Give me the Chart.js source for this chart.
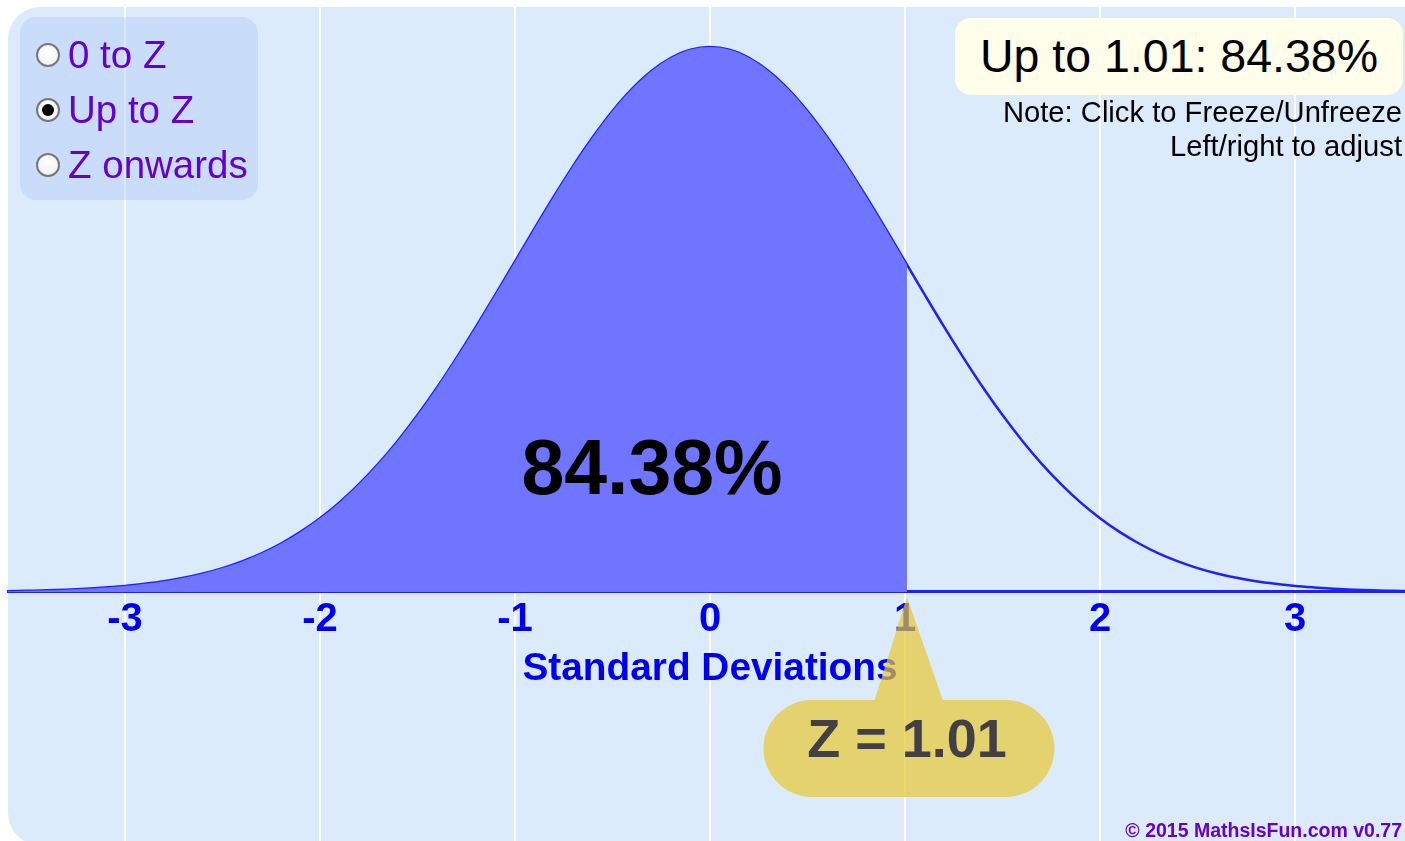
<!DOCTYPE html>
<html>
<head>
<meta charset="utf-8">
<script src="https://cdn.jsdelivr.net/npm/chart.js@4.4.0/dist/chart.umd.min.js"></script>
<style>
html,body{margin:0;padding:0;width:1405px;height:841px;overflow:hidden;background:#fff;font-family:"Liberation Sans",Arial,sans-serif;}
#bg{position:absolute;left:8px;top:7px;width:1430px;height:838px;border-radius:32px;background:#dcebfc;}
#c{position:absolute;left:0;top:0;}
#radio{position:absolute;left:20px;top:17px;width:238px;height:183px;border-radius:16px;background:rgba(185,210,250,0.55);}
.row{position:absolute;left:0;height:55px;display:flex;align-items:center;font-size:38.5px;color:#6600cc;white-space:nowrap;}
.dot{width:20px;height:20px;border-radius:50%;border:2px solid #777;background:radial-gradient(circle at 50% 35%,#fff,#eee);margin-left:16px;margin-right:8px;box-sizing:content-box;position:relative;}
.dot.on::after{content:"";position:absolute;left:4px;top:4px;width:12px;height:12px;border-radius:50%;background:#000;}
#result{position:absolute;left:955px;top:18px;width:448px;height:77px;border-radius:16px;background:#fefeea;font-size:46.5px;line-height:77px;text-align:center;color:#000;}
#note{position:absolute;right:3px;top:95px;font-size:29.2px;line-height:34px;text-align:right;color:#000;}
#area{position:absolute;left:452px;width:400px;top:421px;line-height:92px;font-size:77px;font-weight:bold;text-align:center;color:#000;}
#foot{position:absolute;right:3px;top:819px;line-height:22px;font-size:19.5px;font-weight:bold;color:#6600cc;}
</style>
</head>
<body>
<div id="bg"></div>
<canvas id="c" width="1412" height="841"></canvas>
<div id="radio">
  <div class="row" style="top:10px"><span class="dot"></span>0 to Z</div>
  <div class="row" style="top:65px"><span class="dot on"></span>Up to Z</div>
  <div class="row" style="top:120px"><span class="dot"></span>Z onwards</div>
</div>
<div id="result"></div>
<div id="note">Note: Click to Freeze/Unfreeze<br>Left/right to adjust</div>
<div id="area"></div>
<div id="foot">© 2015 MathsIsFun.com v0.77</div>
<script>
// ---- data ----
const zPoints = [-3.6,-3.5,-3.4,-3.3,-3.2,-3.1,-3.0,-2.9,-2.8,-2.7,-2.6,-2.5,-2.4,-2.3,-2.2,-2.1,-2.0,-1.9,-1.8,-1.7,-1.6,-1.5,-1.4,-1.3,-1.2,-1.1,-1.0,-0.9,-0.8,-0.7,-0.6,-0.5,-0.4,-0.3,-0.2,-0.1,0,0.1,0.2,0.3,0.4,0.5,0.6,0.7,0.8,0.9,1.0,1.1,1.2,1.3,1.4,1.5,1.6,1.7,1.8,1.9,2.0,2.1,2.2,2.3,2.4,2.5,2.6,2.7,2.8,2.9,3.0,3.1,3.2,3.3,3.4,3.5,3.6];
const density = [0.0006,0.0009,0.0012,0.0017,0.0024,0.0033,0.0044,0.0060,0.0079,0.0104,0.0136,0.0175,0.0224,0.0283,0.0355,0.0440,0.0540,0.0656,0.0790,0.0940,0.1109,0.1295,0.1497,0.1714,0.1942,0.2179,0.2420,0.2661,0.2897,0.3123,0.3332,0.3521,0.3683,0.3814,0.3910,0.3970,0.3989,0.3970,0.3910,0.3814,0.3683,0.3521,0.3332,0.3123,0.2897,0.2661,0.2420,0.2179,0.1942,0.1714,0.1497,0.1295,0.1109,0.0940,0.0790,0.0656,0.0540,0.0440,0.0355,0.0283,0.0224,0.0175,0.0136,0.0104,0.0079,0.0060,0.0044,0.0033,0.0024,0.0017,0.0012,0.0009,0.0006];
const zScore = 1.01;
const densityAtZ = 0.2396;
const areaPercent = '84.38%';
const tickValues = [-3,-2,-1,0,1,2,3];
const axisTitle = 'Standard Deviations';
const modeLabel = 'Up to';

document.getElementById('result').textContent = modeLabel + ' ' + zScore.toFixed(2) + ': ' + areaPercent;
document.getElementById('area').textContent = areaPercent;

const FONT = '"Liberation Sans", Arial, sans-serif';
const curve = zPoints.map((x, i) => ({x: x, y: density[i]}));
const shaded = curve.filter(p => p.x <= zScore).concat([{x: zScore, y: densityAtZ}]);

const calloutPlugin = {
  id: 'callout',
  afterDraw(chart) {
    const {ctx, scales} = chart;
    const px = scales.x.getPixelForValue(zScore);
    const py = scales.y.getPixelForValue(0);
    const top = py + 108, h = 97, w = 291;
    ctx.save();
    ctx.beginPath();
    ctx.moveTo(px, py + 5);
    ctx.lineTo(px + 40, top + 12);
    ctx.lineTo(px - 36, top + 12);
    ctx.closePath();
    ctx.roundRect(px - w / 2 + 2, top, w, h, h / 2);
    ctx.fillStyle = 'rgba(230,200,49,0.7)';
    ctx.fill('nonzero');
    ctx.fillStyle = '#433f46';
    ctx.font = 'bold 54px ' + FONT;
    ctx.textAlign = 'center';
    ctx.textBaseline = 'middle';
    ctx.fillText('Z = ' + zScore.toFixed(2), px, top + 42);
    ctx.restore();
  }
};

new Chart(document.getElementById('c'), {
  type: 'line',
  data: {
    datasets: [
      {data: shaded, borderWidth: 0, borderColor: 'rgba(0,0,0,0)', backgroundColor: '#6f75ff', fill: 'origin', pointRadius: 0, cubicInterpolationMode: 'monotone'},
      {data: curve, borderWidth: 2.5, borderColor: '#1f1fff', fill: false, pointRadius: 0, cubicInterpolationMode: 'monotone'}
    ]
  },
  options: {
    responsive: false,
    animation: false,
    events: [],
    layout: {padding: {left: 8, top: 7, right: 0, bottom: 0}},
    plugins: {legend: {display: false}, tooltip: {enabled: false}},
    scales: {
      x: {
        type: 'linear',
        position: {y: 0},
        min: -3.6,
        max: 3.6,
        z: 1,
        afterBuildTicks: (s) => { s.ticks = tickValues.map(v => ({value: v})); },
        ticks: {color: '#0000ee', font: {family: FONT, size: 40, weight: 'bold'}, padding: 4, autoSkip: false, maxRotation: 0, includeBounds: false},
        grid: {color: '#ffffff', lineWidth: 2, drawTicks: false, tickLength: 0},
        border: {display: true, color: '#1f1fff', width: 3},
        title: {display: true, text: axisTitle, color: '#0000ee', font: {family: FONT, size: 38.8, weight: 'bold'}, padding: {top: -2, bottom: 0}}
      },
      y: {type: 'linear', display: false, min: -0.18226, max: 0.4282}
    }
  },
  plugins: [calloutPlugin]
});
</script>
</body>
</html>
